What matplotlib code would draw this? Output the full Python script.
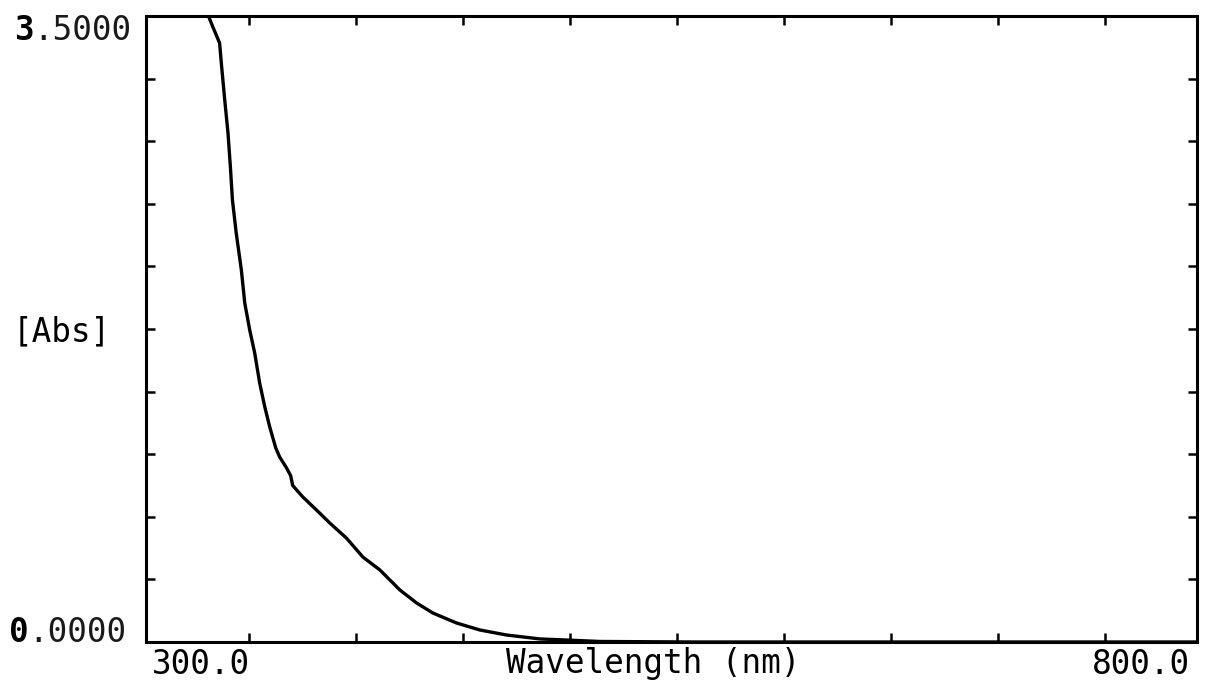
import matplotlib
matplotlib.use("Agg")
import matplotlib.pyplot as plt
from matplotlib.transforms import offset_copy

# Absorbance spectrum (wavelength in nm, absorbance in Abs units)
wavelength_nm = [276.5, 279.0, 283.0, 284.0, 286.0, 287.9, 289.3, 290.5, 292.7,
                 295.7, 297.7, 300.6, 303.5, 306.4, 309.4, 312.3, 315.8, 318.1,
                 322.0, 324.5, 325.7, 331.6, 339.6, 347.4, 357.1, 366.7, 376.6,
                 388.3, 398.1, 407.6, 421.5, 435.1, 450.7, 470.2, 485.8, 505.0,
                 560.0, 650.0, 750.0, 854.0]
absorbance = [3.500, 3.440, 3.349, 3.237, 3.030, 2.846, 2.656, 2.471, 2.287,
              2.080, 1.895, 1.744, 1.616, 1.448, 1.314, 1.202, 1.085, 1.034,
              0.975, 0.930, 0.875, 0.811, 0.738, 0.665, 0.581, 0.475, 0.403,
              0.291, 0.218, 0.162, 0.106, 0.067, 0.039, 0.017, 0.011, 0.003,
              0.000, 0.000, 0.000, 0.000]

x_ticks = [300.0, 362.5, 425.0, 487.5, 550.0, 612.5, 675.0, 737.5, 800.0]
y_ticks = [0.35 * i for i in range(1, 10)]
x_limits = (240.0, 854.0)
y_limits = (0.0, 3.5)

y_top_label = "3.5000"
y_bottom_label = "0.0000"
y_axis_label = "[Abs]"
x_left_label = "300.0"
x_right_label = "800.0"
x_axis_label = "Wavelength (nm)"

mono = "DejaVu Sans Mono"
fs = 23.5
W, H = 1214, 682

fig = plt.figure(figsize=(W / 100, H / 100), dpi=100)
ax = fig.add_axes([146 / W, 1 - 642 / H, (1197 - 146) / W, (642 - 16) / H])

ax.plot(wavelength_nm, absorbance, color="black", lw=2.4, clip_on=True)

ax.set_xlim(*x_limits)
ax.set_ylim(*y_limits)
ax.set_xticks(x_ticks)
ax.set_yticks(y_ticks)
ax.tick_params(axis="both", which="both", direction="in", length=6.5, width=1.8,
               top=True, right=True, labelbottom=False, labelleft=False,
               color="black")
for sp in ax.spines.values():
    sp.set_linewidth(2.2)
    sp.set_color("black")


def plotter_label(x_px, y_px, s, ha="left"):
    """Monospace label whose first character is printed heavier."""
    if ha != "left":
        fig.text(x_px / W, 1 - y_px / H, s, family=mono, fontsize=fs,
                 ha=ha, va="center", color="black")
        return
    fig.text(x_px / W, 1 - y_px / H, s[0], family=mono, fontsize=fs,
             weight="bold", ha="left", va="center", color="black")
    adv = 0.602 * fs  # monospace advance in points
    tr = offset_copy(fig.transFigure, fig=fig, x=adv, y=0, units="points")
    fig.text(x_px / W, 1 - y_px / H, s[1:], family=mono, fontsize=fs,
             ha="left", va="center", color="#1a1a1a", transform=tr)


plotter_label(14, 30, y_top_label)
plotter_label(9, 632, y_bottom_label)
fig.text(13 / W, 1 - 332 / H, y_axis_label, family=mono, fontsize=fs,
         ha="left", va="center", color="black")
fig.text(152 / W, 1 - 665 / H, x_left_label, family=mono, fontsize=fs,
         ha="left", va="center", color="black")
fig.text(1190 / W, 1 - 665 / H, x_right_label, family=mono, fontsize=fs,
         ha="right", va="center", color="black")
fig.text(653 / W, 1 - 664 / H, x_axis_label, family=mono, fontsize=fs,
         ha="center", va="center", color="black")

fig.savefig("out.png", dpi=100)
